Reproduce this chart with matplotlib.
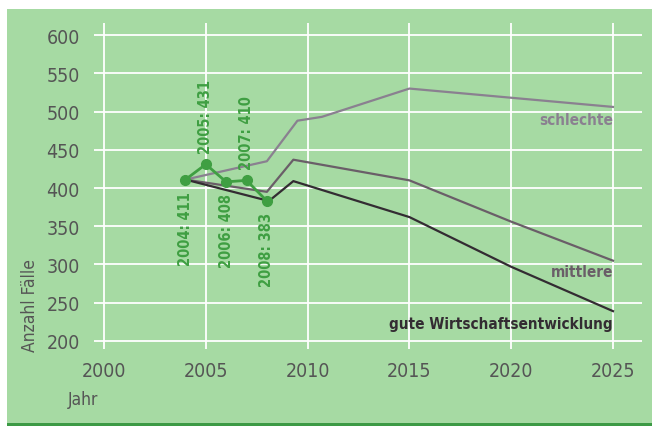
import matplotlib.pyplot as plt
from matplotlib.patches import Rectangle

# observed values
obs_years = [2004, 2005, 2006, 2007, 2008]
obs_vals = [411, 431, 408, 410, 383]

# projections
schlecht_years = [2004, 2008, 2009.5, 2010.7, 2015, 2025]
schlecht_vals = [411, 435, 488, 493, 530, 506]

mittel_years = [2004, 2008, 2009.3, 2015, 2020, 2025]
mittel_vals = [411, 395, 437, 410, 356, 305]

gut_years = [2004, 2008.1, 2009.3, 2015, 2020, 2025]
gut_vals = [411, 383, 409, 362, 297, 239]

x_ticks = [2000, 2005, 2010, 2015, 2020, 2025]
y_ticks = [200, 250, 300, 350, 400, 450, 500, 550, 600]

plt.rcParams['font.family'] = ['DejaVu Sans']
plt.rcParams['font.stretch'] = 'condensed'

bg = '#a6daa3'
tick_col = '#555555'
green = '#3f9f42'

fig = plt.figure(figsize=(6.52, 4.27), dpi=100)
fig.patch.set_facecolor('white')
# green panel
fig.patches.append(Rectangle((7 / 652, 0), 1, 1 - 10 / 427, transform=fig.transFigure,
                             facecolor=bg, edgecolor='none', zorder=-2))
fig.patches.append(Rectangle((7 / 652, 0), 1, 3 / 427, transform=fig.transFigure,
                             facecolor='#3c9a45', edgecolor='none', zorder=-1))

ax = fig.add_axes([0.1439, 0.1794, 0.840, 0.7649])
ax.set_zorder(2)
ax.set_facecolor('none')
ax.set_xlim(1999.5, 2026.4)
ax.set_ylim(189, 616)
ax.set_xticks(x_ticks)
ax.set_yticks(y_ticks)
ax.grid(True, color='white', linewidth=1.3)
ax.set_axisbelow(True)
for s in ax.spines.values():
    s.set_visible(False)
ax.tick_params(length=0, labelsize=14, labelcolor=tick_col)
ax.tick_params(axis='y', pad=10)
ax.tick_params(axis='x', pad=8)

ax.plot(schlecht_years, schlecht_vals, color='#8a8090', linewidth=1.6)
ax.plot(mittel_years, mittel_vals, color='#6a5e68', linewidth=1.6)
ax.plot(gut_years, gut_vals, color='#332c32', linewidth=1.6)
ax.plot(obs_years, obs_vals, color=green, linewidth=2, marker='o', markersize=7, zorder=5)

# value labels, alternating below / above
for i, (yr, v) in enumerate(zip(obs_years, obs_vals)):
    below = i % 2 == 0
    ax.annotate(f"{yr}: {v}", (yr, v), xytext=(0, -8 if below else 8),
                textcoords='offset points', rotation=90, ha='center',
                va='top' if below else 'bottom', color=green,
                fontsize=10.5, fontweight='bold')

ax.text(2025, 500, 'schlechte', ha='right', va='top', color='#8a8090',
        fontsize=11, fontweight='bold')
ax.text(2025, 301, 'mittlere', ha='right', va='top', color='#6a5e68',
        fontsize=11, fontweight='bold')
ax.text(2025, 233, 'gute Wirtschaftsentwicklung', ha='right', va='top', color='#332c32',
        fontsize=11, fontweight='bold')

fig.text(30 / 652, 1 - 305 / 427, 'Anzahl Fälle', rotation=90, ha='center', va='center',
         color=tick_col, fontsize=12.5)
fig.text(68 / 652, 1 - 400 / 427, 'Jahr', ha='left', va='center', color=tick_col, fontsize=12.5)

fig.savefig('out.png', dpi=100, facecolor='white')
